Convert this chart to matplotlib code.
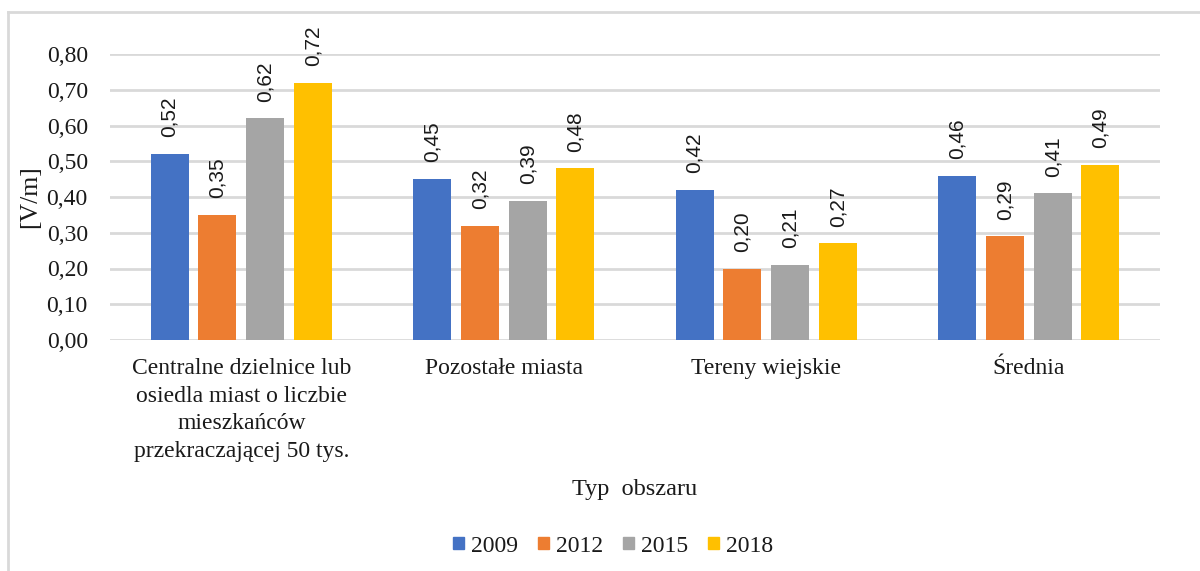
import matplotlib.pyplot as plt
import numpy as np
from matplotlib.lines import Line2D

# data
categories = ["Centralne dzielnice lub\nosiedla miast o liczbie\nmieszkańców\nprzekraczającej 50 tys.",
              "Pozostałe miasta", "Tereny wiejskie", "Średnia"]
years = ["2009", "2012", "2015", "2018"]
v2009 = [0.52, 0.45, 0.42, 0.46]
v2012 = [0.35, 0.32, 0.20, 0.29]
v2015 = [0.62, 0.39, 0.21, 0.41]
v2018 = [0.72, 0.48, 0.27, 0.49]
yticks = [0.0, 0.1, 0.2, 0.3, 0.4, 0.5, 0.6, 0.7, 0.8]

colors = ["#4472C4", "#ED7D31", "#A5A5A5", "#FFC000"]
serif = "Liberation Serif"
sans = "Liberation Sans"
txt = "#1a1a1a"

fig = plt.figure(figsize=(12, 5.71), dpi=100)
ax = fig.add_axes([110 / 1200, 1 - 340 / 571, 1050 / 1200, 286 / 571])

x = np.arange(len(categories))
w = 0.145
step = 0.182
series = [v2009, v2012, v2015, v2018]
for i, vals in enumerate(series):
    pos = x + (i - 1.5) * step
    bars = ax.bar(pos, vals, width=w, color=colors[i], label=years[i], zorder=3)
    for b, v in zip(bars, vals):
        ax.annotate(f"{v:.2f}".replace(".", ","), (b.get_x() + b.get_width() / 2, v),
                    xytext=(0, 12), textcoords="offset points", rotation=90,
                    ha="center", va="bottom", fontsize=15, family=sans, color=txt)

ax.set_xlim(-0.5, len(categories) - 0.5)
ax.set_ylim(0, 0.8)
ax.set_yticks(yticks)
ax.set_yticklabels([f"{t:.2f}".replace(".", ",") for t in yticks], family=serif, fontsize=17)
ax.set_xticks(x)
ax.set_xticklabels(categories, family=serif, fontsize=17, linespacing=1.42, va="top")
ax.tick_params(axis="both", length=0, colors=txt)
ax.tick_params(axis="y", pad=16)
ax.tick_params(axis="x", pad=13)
ax.grid(axis="y", color="#D9D9D9", linewidth=2, zorder=0)
for s in ax.spines.values():
    s.set_visible(False)

fig.text(30 / 1200, 1 - 197 / 571, "[V/m]", rotation=90, ha="center", va="center",
         family=serif, fontsize=18.5, color=txt)
fig.text(635 / 1200, 1 - 490 / 571, "Typ  obszaru", ha="center", va="center",
         family=serif, fontsize=17.5, color=txt)

handles = [plt.Rectangle((0, 0), 1, 1, color=c) for c in colors]
fig.legend(handles, years, loc="center", bbox_to_anchor=(613 / 1200, 1 - 546 / 571),
           ncol=4, frameon=False, prop={"family": serif, "size": 17},
           handlelength=0.45, handleheight=0.45, handletextpad=0.3, columnspacing=0.85,
           labelcolor=txt)

# chart border (top and left visible)
fig.add_artist(Line2D([8 / 1200, 8 / 1200], [0, 1 - 12 / 571], color="#D9D9D9", lw=2))
fig.add_artist(Line2D([8 / 1200, 1], [1 - 12 / 571, 1 - 12 / 571], color="#D9D9D9", lw=2))

fig.savefig("out.png", dpi=100, facecolor="white")
